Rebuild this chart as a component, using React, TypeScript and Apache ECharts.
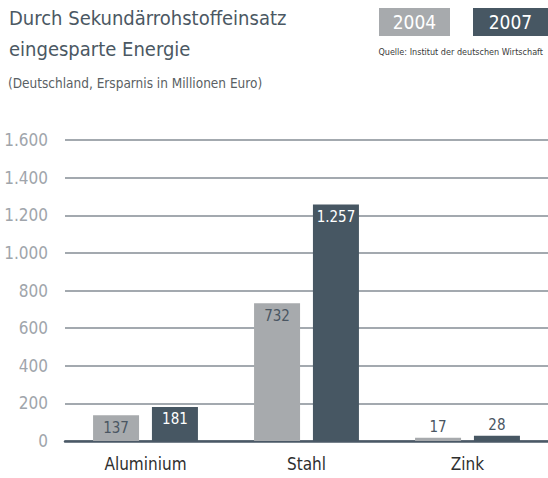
import React, { useEffect, useRef } from "react";
import * as echarts from "echarts";

const categories = ["Aluminium", "Stahl", "Zink"];
const seriesNames = ["2004", "2007"];
const values2004 = [137, 732, 17];
const values2007 = [181, 1257, 28];
const yMin = 0;
const yMax = 1600;
const yInterval = 200;

const FONT = "'Liberation Sans Narrow', 'DejaVu Sans Condensed', Roboto, sans-serif";
const C2004 = "#a7aaad";
const C2007 = "#475763";
const DARK_LABEL = "#4a5662";

const fmt = (v: number) => String(v).replace(/\B(?=(\d{3})+(?!\d))/g, ".");

export default function App() {
  const ref = useRef<HTMLDivElement>(null);
  useEffect(() => {
    if (!ref.current) return;
    const chart = echarts.init(ref.current, undefined, { renderer: "svg" });
    const makeData = (vals: number[], insideColor: string) =>
      vals.map((v) => ({
        value: v,
        label:
          v < 60
            ? { position: "top", distance: 3, color: DARK_LABEL }
            : { position: "insideTop", distance: 5, color: insideColor },
      }));
    chart.setOption({
      animation: false,
      textStyle: { fontFamily: FONT },
      grid: { left: 65, right: 0, top: 140, bottom: 37, containLabel: false },
      xAxis: {
        type: "category",
        data: categories,
        axisLine: { show: true, lineStyle: { color: "#4a5866", width: 2.5 } },
        axisTick: { show: false },
        axisLabel: { color: "#2f2f2f", fontSize: 17, margin: 14, fontFamily: FONT },
      },
      yAxis: {
        type: "value",
        min: yMin,
        max: yMax,
        interval: yInterval,
        axisLine: { show: false },
        axisTick: { show: false },
        splitLine: { lineStyle: { color: "#a3a9af", width: 1.8 } },
        axisLabel: {
          color: "#a0a5ab",
          fontSize: 17,
          margin: 17,
          fontFamily: FONT,
          formatter: (v: number) => fmt(v),
        },
      },
      series: [
        {
          name: seriesNames[0],
          type: "bar",
          barWidth: 46,
          barGap: "28%",
          itemStyle: { color: C2004 },
          label: { show: true, fontSize: 15, fontFamily: FONT, formatter: (p: any) => fmt(p.value) },
          data: makeData(values2004, DARK_LABEL),
        },
        {
          name: seriesNames[1],
          type: "bar",
          barWidth: 46,
          barGap: "28%",
          itemStyle: { color: C2007 },
          label: { show: true, fontSize: 15, fontFamily: FONT, formatter: (p: any) => fmt(p.value) },
          data: makeData(values2007, "#ffffff"),
        },
      ],
      graphic: [
        {
          type: "text",
          left: 9,
          top: 8,
          style: {
            text: "Durch Sekundärrohstoffeinsatz",
            fontSize: 20,
            fontFamily: FONT,
            fill: "#4b5863",
          },
        },
        {
          type: "text",
          left: 9,
          top: 39,
          style: {
            text: "eingesparte Energie",
            fontSize: 20,
            fontFamily: FONT,
            fill: "#4b5863",
          },
        },
        {
          type: "text",
          left: 8,
          top: 76,
          style: {
            text: "(Deutschland, Ersparnis in Millionen Euro)",
            fontSize: 13.5,
            fontFamily: FONT,
            fill: "#5a5f64",
          },
        },
        {
          type: "rect",
          shape: { x: 379, y: 8, width: 71, height: 28 },
          style: { fill: C2004 },
        },
        {
          type: "text",
          x: 414.5,
          y: 22,
          style: {
            text: seriesNames[0],
            fontSize: 19,
            fontFamily: FONT,
            fill: "#ffffff",
            align: "center",
            verticalAlign: "middle",
          },
        },
        {
          type: "rect",
          shape: { x: 473, y: 8, width: 75, height: 28 },
          style: { fill: C2007 },
        },
        {
          type: "text",
          x: 510.5,
          y: 22,
          style: {
            text: seriesNames[1],
            fontSize: 19,
            fontFamily: FONT,
            fill: "#ffffff",
            align: "center",
            verticalAlign: "middle",
          },
        },
        {
          type: "text",
          x: 543,
          y: 52,
          style: {
            text: "Quelle: Institut der deutschen Wirtschaft",
            fontSize: 9,
            fontFamily: FONT,
            fill: "#3a3a3a",
            align: "right",
            verticalAlign: "middle",
          },
        },
      ],
    });
    return () => chart.dispose();
  }, []);
  return (
    <div
      ref={ref}
      style={{ position: "absolute", left: 0, top: 0, width: 548, height: 478, background: "#ffffff" }}
    />
  );
}
